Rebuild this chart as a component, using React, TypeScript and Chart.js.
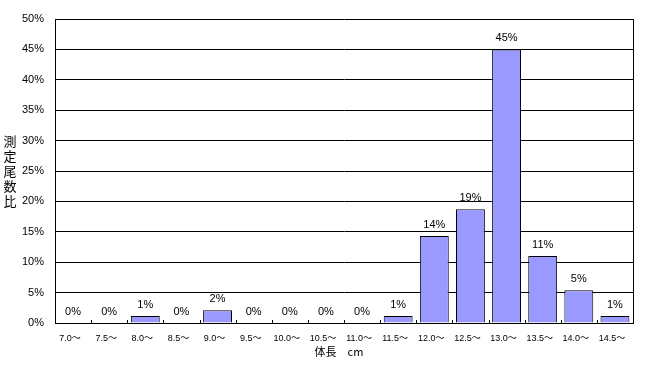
import React, { useEffect, useRef } from "react";
import { Chart, registerables } from "chart.js";

Chart.register(...registerables);

const categories = ["7.0～", "7.5～", "8.0～", "8.5～", "9.0～", "9.5～", "10.0～", "10.5～", "11.0～", "11.5～", "12.0～", "12.5～", "13.0～", "13.5～", "14.0～", "14.5～"];
const ratios = [0, 0, 1.15, 0, 2.1, 0, 0, 0, 0, 1.15, 14.3, 18.7, 45.0, 11.0, 5.4, 1.15];
const yTitleChars = ["測", "定", "尾", "数", "比"];
const xTitle = "体長　cm";

const FONT = "'Liberation Sans', 'Noto Sans CJK JP', sans-serif";
const CJK = "'Noto Sans CJK JP', sans-serif";

const extrasPlugin = {
  id: "extras",
  afterDatasetsDraw(chart: any) {
    const ctx = chart.ctx;
    const meta = chart.getDatasetMeta(0);
    const xs = chart.scales.x;
    const ys = chart.scales.y;
    const area = chart.chartArea;
    ctx.save();
    // data labels
    ctx.fillStyle = "#000";
    ctx.font = `11px ${FONT}`;
    ctx.textAlign = "center";
    ctx.textBaseline = "middle";
    meta.data.forEach((bar: any, i: number) => {
      const v = ratios[i];
      ctx.fillText(`${Math.round(v)}%`, bar.x, ys.getPixelForValue(v) - 11);
    });
    // inner ticks at category boundaries
    ctx.strokeStyle = "#000";
    ctx.lineWidth = 1;
    ctx.beginPath();
    for (let i = 1; i < categories.length; i++) {
      const x = Math.round((xs.getPixelForValue(i - 1) + xs.getPixelForValue(i)) / 2) + 0.5;
      ctx.moveTo(x, area.bottom);
      ctx.lineTo(x, area.bottom - 3);
    }
    ctx.stroke();
    // y title (vertical stacked)
    ctx.font = `13px ${CJK}`;
    const y0 = ys.getPixelForValue(30);
    const y1 = ys.getPixelForValue(20);
    const step = (y1 - y0) / (yTitleChars.length - 1);
    yTitleChars.forEach((c, i) => {
      ctx.fillText(c, 10, y0 + step * i);
    });
    // x title
    ctx.font = `11px ${CJK}`;
    ctx.fillText(xTitle, 339, 352);
    ctx.restore();
  },
};

export default function App() {
  const ref = useRef<HTMLCanvasElement>(null);
  useEffect(() => {
    document.body.style.margin = "0";
    const chart = new Chart(ref.current as HTMLCanvasElement, {
      type: "bar",
      data: {
        labels: categories,
        datasets: [
          {
            data: ratios,
            backgroundColor: "#9999FF",
            borderColor: "#000000",
            borderWidth: 1,
            categoryPercentage: 1,
            barPercentage: 0.8,
          },
        ],
      },
      options: {
        responsive: false,
        animation: false,
        layout: { padding: { top: 19, right: 13, left: 0, bottom: 0 } },
        plugins: { legend: { display: false }, tooltip: { enabled: false } },
        scales: {
          x: {
            grid: { display: false, drawTicks: false },
            border: { display: true, color: "#000", width: 1 },
            ticks: { color: "#000", font: { family: FONT, size: 9 }, padding: 10, labelOffset: -3, maxRotation: 0, autoSkip: false },
            afterFit: (s: any) => { s.height = 42; },
          },
          y: {
            min: 0,
            max: 50,
            grid: { color: "#000", drawTicks: false, lineWidth: 1 },
            border: { display: true, color: "#000", width: 1 },
            ticks: { stepSize: 5, color: "#000", font: { family: FONT, size: 11 }, padding: 11, callback: (v: any) => `${v}%` },
            afterFit: (s: any) => { s.width = 55; },
          },
          y2: {
            position: "right",
            min: 0,
            max: 50,
            grid: { display: false, drawTicks: false },
            border: { display: true, color: "#000", width: 1 },
            ticks: { display: false },
            afterFit: (s: any) => { s.width = 0; },
          },
        },
      },
      plugins: [extrasPlugin],
    });
    return () => chart.destroy();
  }, []);
  return <canvas ref={ref} width={646} height={365} style={{ display: "block" }} />;
}
